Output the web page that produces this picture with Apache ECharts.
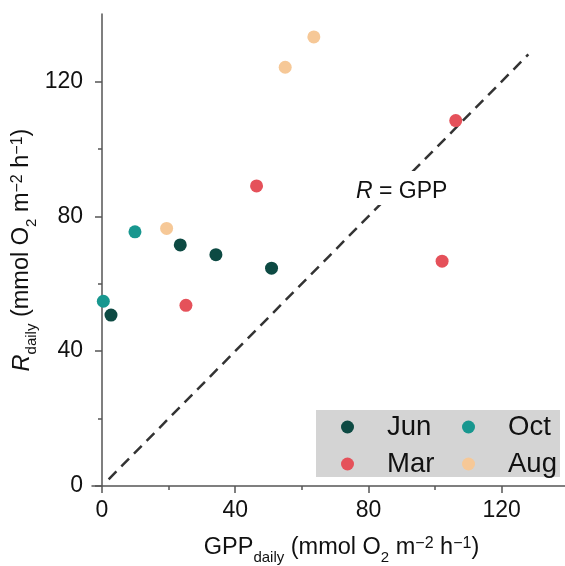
<!DOCTYPE html>
<html><head><meta charset="utf-8">
<script src="https://cdn.jsdelivr.net/npm/echarts@6/dist/echarts.min.js"></script>
<style>html,body{margin:0;padding:0;background:#fff}#c{width:565px;height:566px}</style>
</head><body><div id="c"></div>
<script>
// ---- data ----
const months = ['Jun', 'Oct', 'Mar', 'Aug'];
const monthColors = ['#0d4a43', '#18978f', '#e5515a', '#f6c897'];
const junData = [[2.7, 50.7], [23.5, 71.5], [34.2, 68.6], [50.9, 64.6]];
const octData = [[0.4, 54.8], [9.9, 75.4]];
const marData = [[25.2, 53.6], [46.4, 89.0], [102.1, 66.7], [106.2, 108.4]];
const augData = [[19.4, 76.4], [55.0, 124.2], [63.6, 133.2]];
const oneToOneLine = [[2, 2], [128, 128]];
const majorTicks = [0, 40, 80, 120];
const minorTicks = [20, 60, 100];
const xRange = [-3, 139];
const yRange = [0, 140];

const FONT = '"Liberation Sans", Arial, Helvetica, sans-serif';
const AX = '#555';
const TXT = '#111';

const titleRich = {
  n: { fontSize: 23.5, lineHeight: 34, color: TXT, fontFamily: FONT },
  i: { fontSize: 23.5, lineHeight: 34, color: TXT, fontFamily: FONT, fontStyle: 'italic' },
  s: { fontSize: 15, lineHeight: 13, verticalAlign: 'bottom', color: TXT, fontFamily: FONT },
  u: { fontSize: 16, lineHeight: 30, verticalAlign: 'top', padding: [5, 0, 0, 0], color: TXT, fontFamily: FONT }
};
const unitStr = '{n| (mmol O}{s|2}{n| m}{u|\u22122}{n| h}{u|\u22121}{n|)}';

function mainAxis(range, extra) {
  return Object.assign({
    type: 'value', min: range[0], max: range[1],
    axisLine: { show: true, lineStyle: { color: AX, width: 1.5 } },
    axisTick: { show: true, customValues: majorTicks, length: 7, lineStyle: { color: AX, width: 1.5 } },
    axisLabel: { show: true, customValues: majorTicks, fontSize: 23, color: TXT, fontFamily: FONT },
    splitLine: { show: false },
    nameLocation: 'middle',
    nameMoveOverlap: false
  }, extra);
}
function minorAxis(range, extra) {
  return Object.assign({
    type: 'value', min: range[0], max: range[1],
    axisLine: { show: false },
    axisTick: { show: true, customValues: minorTicks, length: 4, lineStyle: { color: AX, width: 1.5 } },
    axisLabel: { show: false },
    splitLine: { show: false }
  }, extra);
}

const seriesData = [junData, octData, marData, augData];
const scatterSeries = months.map((m, k) => ({
  name: m, type: 'scatter', data: seriesData[k], symbol: 'circle', symbolSize: 13,
  itemStyle: { color: monthColors[k], opacity: 1 }, z: 5
}));

const legendCommon = {
  orient: 'vertical', icon: 'circle', itemWidth: 13, itemHeight: 13, itemGap: 9,
  padding: 0, selectedMode: false,
  formatter: '{t|{name}}',
  textStyle: { rich: { t: { fontSize: 27.5, lineHeight: 28, color: TXT, fontFamily: FONT, padding: [0, 0, 0, 28] } } }
};

const chart = echarts.init(document.getElementById('c'));
chart.setOption({
  animation: false,
  backgroundColor: '#fff',
  grid: { left: 92, right: 0, top: 14, bottom: 80, containLabel: false, outerBoundsMode: 'none' },
  xAxis: [
    mainAxis(xRange, {
      position: 'bottom',
      axisLine: { show: true, onZero: false, lineStyle: { color: AX, width: 1.5 } },
      axisLabel: { show: true, customValues: majorTicks, fontSize: 23, color: TXT, fontFamily: FONT, margin: 13 },
      name: '{n|GPP}{s|daily}' + unitStr, nameGap: 45,
      nameTextStyle: { rich: titleRich, padding: [0, 0, 0, 26] }
    }),
    minorAxis(xRange, { position: 'bottom', axisLine: { show: false, onZero: false } })
  ],
  yAxis: [
    mainAxis(yRange, {
      position: 'left',
      axisLabel: { show: true, customValues: majorTicks, fontSize: 23, color: TXT, fontFamily: FONT, margin: 9 },
      name: '{i|R}{s|daily}' + unitStr, nameGap: 53,
      nameTextStyle: { rich: titleRich }
    }),
    minorAxis(yRange, { position: 'left' })
  ],
  legend: [
    Object.assign({}, legendCommon, { left: 341, top: 413, data: ['Jun', 'Mar'] }),
    Object.assign({}, legendCommon, { left: 462, top: 413, data: ['Oct', 'Aug'] })
  ],
  graphic: [
    { type: 'rect', shape: { x: 316, y: 410, width: 244, height: 67 }, style: { fill: '#d4d4d4' }, z: -1, silent: true },
    { type: 'text', x: 354, y: 188, style: {
        text: '{i|R}{n| = GPP}', verticalAlign: 'middle', align: 'left',
        backgroundColor: '#fff', padding: [9, 2, 2, 2],
        rich: { i: { fontSize: 23, fontStyle: 'italic', fill: TXT, fontFamily: FONT }, n: { fontSize: 23, fill: TXT, fontFamily: FONT } }
      }, z: 10 }
  ],
  series: [
    { name: 'R = GPP', type: 'line', data: oneToOneLine, showSymbol: false, symbol: 'none', silent: true,
      lineStyle: { color: '#333', width: 2.5, type: [11, 7] }, z: 2 }
  ].concat(scatterSeries)
});
</script></body></html>
